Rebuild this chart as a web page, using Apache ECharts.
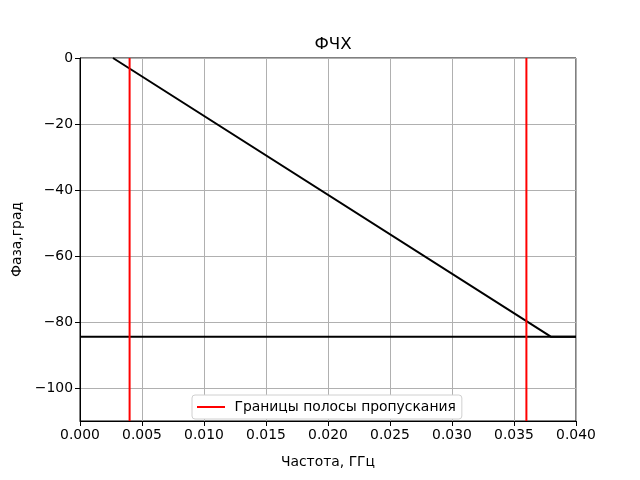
<!DOCTYPE html>
<html><head><meta charset="utf-8">
<script src="https://cdn.jsdelivr.net/npm/echarts@6/dist/echarts.min.js"></script>
<style>html,body{margin:0;padding:0;background:#fff}#c{width:640px;height:480px}</style>
</head><body><div id="c"></div>
<script>
const phaseFreq = [0.00266, 0.038, 0.04];
const phaseDeg = [0, -84.5, -84.5];
const levelFreq = [0, 0.04];
const levelDeg = [-84.5, -84.5];
const bandEdges = [0.004, 0.036];
const yRange = [-110, 0];
const yTicks = [-100, -80, -60, -40, -20, 0];
const legendName = 'Границы полосы пропускания';

const font = 'DejaVu Sans';
const fmtY = v => (v < 0 ? '\u2212' + Math.abs(v) : String(v));
const zip = (a, b) => a.map((v, i) => [v, b[i]]);

const series = [
  {type:'line', data: zip(phaseFreq, phaseDeg), showSymbol:false, symbol:'none',
   lineStyle:{color:'#000', width:2}, silent:true},
  {type:'line', data: zip(levelFreq, levelDeg), showSymbol:false, symbol:'none',
   lineStyle:{color:'#000', width:2}, silent:true}
];
bandEdges.forEach(f => series.push({
  type:'line', name: legendName, data: [[f, yRange[0]], [f, yRange[1]]],
  showSymbol:false, symbol:'none', lineStyle:{color:'#ff0000', width:2},
  itemStyle:{color:'#ff0000'}, silent:true
}));

const chart = echarts.init(document.getElementById('c'), null, {renderer:'canvas'});
chart.setOption({
  animation:false,
  backgroundColor:'#fff',
  title:{text:'ФЧХ', left:328, top:31, textAlign:'center',
    textStyle:{fontFamily:font, fontSize:16.7, fontWeight:'normal', color:'#000'}},
  grid:{left:80, right:64, top:58, bottom:59, show:true, borderColor:'#000', borderWidth:1, backgroundColor:'transparent'},
  legend:{data:[legendName], left:192, top:395,
    icon:'rect', itemWidth:28, itemHeight:2, itemGap:10,
    formatter: n => ' ' + n,
    backgroundColor:'#fff', borderColor:'#d0d0d0', borderWidth:1, borderRadius:3,
    padding:[5,6,5,5],
    textStyle:{fontFamily:font, fontSize:13.9, color:'#000'}},
  xAxis:{type:'value', min:0, max:0.04, interval:0.005,
    name:'Частота, ГГц', nameLocation:'middle', nameGap:34,
    nameTextStyle:{fontFamily:font, fontSize:13.9, color:'#000'},
    axisLine:{show:true, onZero:false, lineStyle:{color:'#000', width:1}},
    axisTick:{show:true, length:5, lineStyle:{color:'#000'}},
    axisLabel:{fontFamily:font, fontSize:13.9, color:'#000', margin:7,
      formatter: v => v.toFixed(3)},
    splitLine:{show:true, lineStyle:{color:'#b0b0b0', width:1}}},
  yAxis:{type:'value', min:yRange[0], max:yRange[1],
    name:'Фаза,град', nameLocation:'middle', nameGap:50,
    nameTextStyle:{fontFamily:font, fontSize:13.9, color:'#000'},
    axisLine:{show:true, onZero:false, lineStyle:{color:'#000', width:1}},
    axisTick:{show:true, length:5, lineStyle:{color:'#000'}, customValues: yTicks},
    axisLabel:{fontFamily:font, fontSize:13.9, color:'#000', margin:7,
      customValues: yTicks, formatter: fmtY},
    splitLine:{show:true, lineStyle:{color:'#b0b0b0', width:1}}},
  series: series
});
</script></body></html>
